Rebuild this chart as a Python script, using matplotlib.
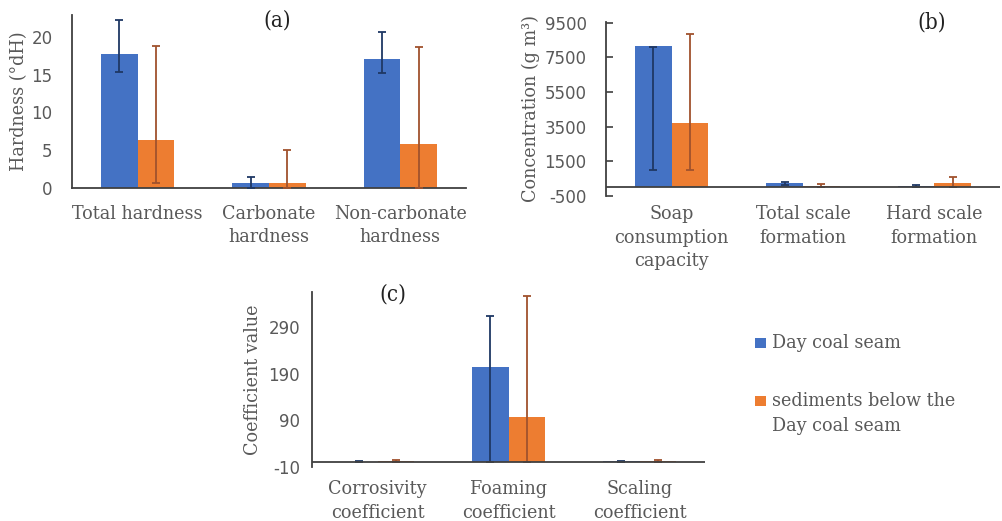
import matplotlib
matplotlib.use("Agg")
import matplotlib.pyplot as plt
import numpy as np
from matplotlib.patches import Rectangle

plt.rcParams["axes.unicode_minus"] = False

# ---------------- data ----------------
series_names = ["Day coal seam", "sediments below the\nDay coal seam"]

cats_a = ["Total hardness", "Carbonate\nhardness", "Non-carbonate\nhardness"]
day_a = [17.8, 0.6, 17.1]
sed_a = [6.4, 0.7, 5.8]
day_a_lo = [15.4, 0.0, 15.2]
day_a_hi = [22.2, 1.45, 20.6]
sed_a_lo = [0.6, 0.0, 0.0]
sed_a_hi = [18.8, 5.0, 18.6]
ticks_a = [0, 5, 10, 15, 20]

cats_b = ["Soap\nconsumption\ncapacity", "Total scale\nformation", "Hard scale\nformation"]
day_b = [8170, 250, 75]
sed_b = [3690, 100, 250]
day_b_lo = [1000, 160, 40]
day_b_hi = [8080, 290, 110]
sed_b_lo = [1000, 30, 0]
sed_b_hi = [8845, 180, 600]
ticks_b = [-500, 1500, 3500, 5500, 7500, 9500]

cats_c = ["Corrosivity\ncoefficient", "Foaming\ncoefficient", "Scaling\ncoefficient"]
day_c = [1.5, 204, 2.0]
sed_c = [3.0, 97, 2.5]
day_c_lo = [0.5, 0, 1.0]
day_c_hi = [2.5, 314, 3.0]
sed_c_lo = [0.0, 0, 0.0]
sed_c_hi = [6.0, 357, 6.0]
ticks_c = [-10, 90, 190, 290]

# ---------------- style ----------------
BLUE = "#4472C4"
ORANGE = "#ED7D31"
BLUE_ERR = "#1F3864"
ORANGE_ERR = "#A0522D"
GREY = "#595959"
AXC = "#404040"
LABEL_FONT = dict(family="DejaVu Serif", fontstretch="condensed")
NUM_FAMILY = "DejaVu Sans"
FS = 14

W, H = 1003, 521
fig = plt.figure(figsize=(W / 100, H / 100), dpi=100)


def px_axes(left, right, top, bottom):
    return fig.add_axes([left / W, 1 - bottom / H, (right - left) / W, (bottom - top) / H])


def panel(ax, cats, day, sed, dlo, dhi, slo, shi, ylim, ticks, ylabel, xpad, ypad, zero_line):
    x = np.arange(len(cats))
    bw = 0.28
    ax.bar(x - bw / 2, day, bw, color=BLUE, zorder=2)
    ax.bar(x + bw / 2, sed, bw, color=ORANGE, zorder=2)
    for off, lo, hi, col in ((-bw / 2, dlo, dhi, BLUE_ERR), (bw / 2, slo, shi, ORANGE_ERR)):
        lo = np.asarray(lo, float)
        hi = np.asarray(hi, float)
        ax.errorbar(x + off, (lo + hi) / 2, yerr=(hi - lo) / 2, fmt="none",
                    ecolor=col, elinewidth=1.3, capsize=3, capthick=1.3, zorder=3)
    ax.set_xlim(-0.5, len(cats) - 0.5)
    ax.set_ylim(*ylim)
    ax.set_yticks(ticks)
    ax.set_xticks(x)
    ax.set_xticklabels(cats, color=GREY, fontsize=FS, linespacing=1.4, **LABEL_FONT)
    for t in ax.get_yticklabels():
        t.set_color(GREY)
        t.set_fontsize(12)
        t.set_family(NUM_FAMILY)
    ax.tick_params(axis="x", length=0, pad=xpad)
    ax.tick_params(axis="y", which="major", length=0, pad=ypad)
    for s in ("top", "right"):
        ax.spines[s].set_visible(False)
    ax.spines["left"].set_color(AXC)
    ax.spines["left"].set_linewidth(1.3)
    if zero_line:
        ax.spines["bottom"].set_visible(False)
        ax.axhline(0, color=AXC, lw=1.3, zorder=4)
    else:
        ax.spines["bottom"].set_color(AXC)
        ax.spines["bottom"].set_linewidth(1.3)
    ax.set_ylabel(ylabel, color=GREY, fontsize=FS, **LABEL_FONT)


ax_a = px_axes(72, 466, 15, 188)
panel(ax_a, cats_a, day_a, sed_a, day_a_lo, day_a_hi, sed_a_lo, sed_a_hi,
      (0, 22.9), ticks_a, "Hardness (°dH)", 12, 14, False)
ax_a.yaxis.set_label_coords(-0.112, 0.5)

ax_b = px_axes(606, 1000, 22, 196)
panel(ax_b, cats_b, day_b, sed_b, day_b_lo, day_b_hi, sed_b_lo, sed_b_hi,
      (-500, 9550), ticks_b, "Concentration (g m³)", 6.5, 14, True)
ax_b.tick_params(axis="y", which="major", length=5, direction="in", color=AXC, width=1.2)
ax_b.yaxis.set_label_coords(-0.168, 0.5)

ax_c = px_axes(312, 705, 292, 467)
panel(ax_c, cats_c, day_c, sed_c, day_c_lo, day_c_hi, sed_c_lo, sed_c_hi,
      (-10, 366), ticks_c, "Coefficient value", 9.5, 8.5, True)
ax_c.set_yticks([-10], minor=True)
ax_c.tick_params(axis="y", which="minor", length=5, direction="in", color=AXC, width=1.2,
                 labelleft=False)
ax_c.yaxis.set_label_coords(-0.128, 0.5)

fig.text(277 / W, 1 - 20 / H, "(a)", ha="center", va="center", fontsize=16, color="#222222", **LABEL_FONT)
fig.text(932 / W, 1 - 22 / H, "(b)", ha="center", va="center", fontsize=16, color="#222222", **LABEL_FONT)
fig.text(393 / W, 1 - 295 / H, "(c)", ha="center", va="center", fontsize=16, color="#222222", **LABEL_FONT)

# legend (manual, squares aligned with the first text line)
leg_colors = [BLUE, ORANGE]
leg_y = [343, 401]
for col, y0, name in zip(leg_colors, leg_y, series_names):
    fig.patches.append(Rectangle((755 / W, 1 - (y0 + 5) / H), 11 / W, 10 / H,
                                 transform=fig.transFigure, facecolor=col, edgecolor="none"))
    for i, line in enumerate(name.split("\n")):
        fig.text(772 / W, 1 - (y0 + 25 * i) / H, line, ha="left", va="center",
                 fontsize=FS, color=GREY, **LABEL_FONT)

fig.savefig("out.png", dpi=100)
